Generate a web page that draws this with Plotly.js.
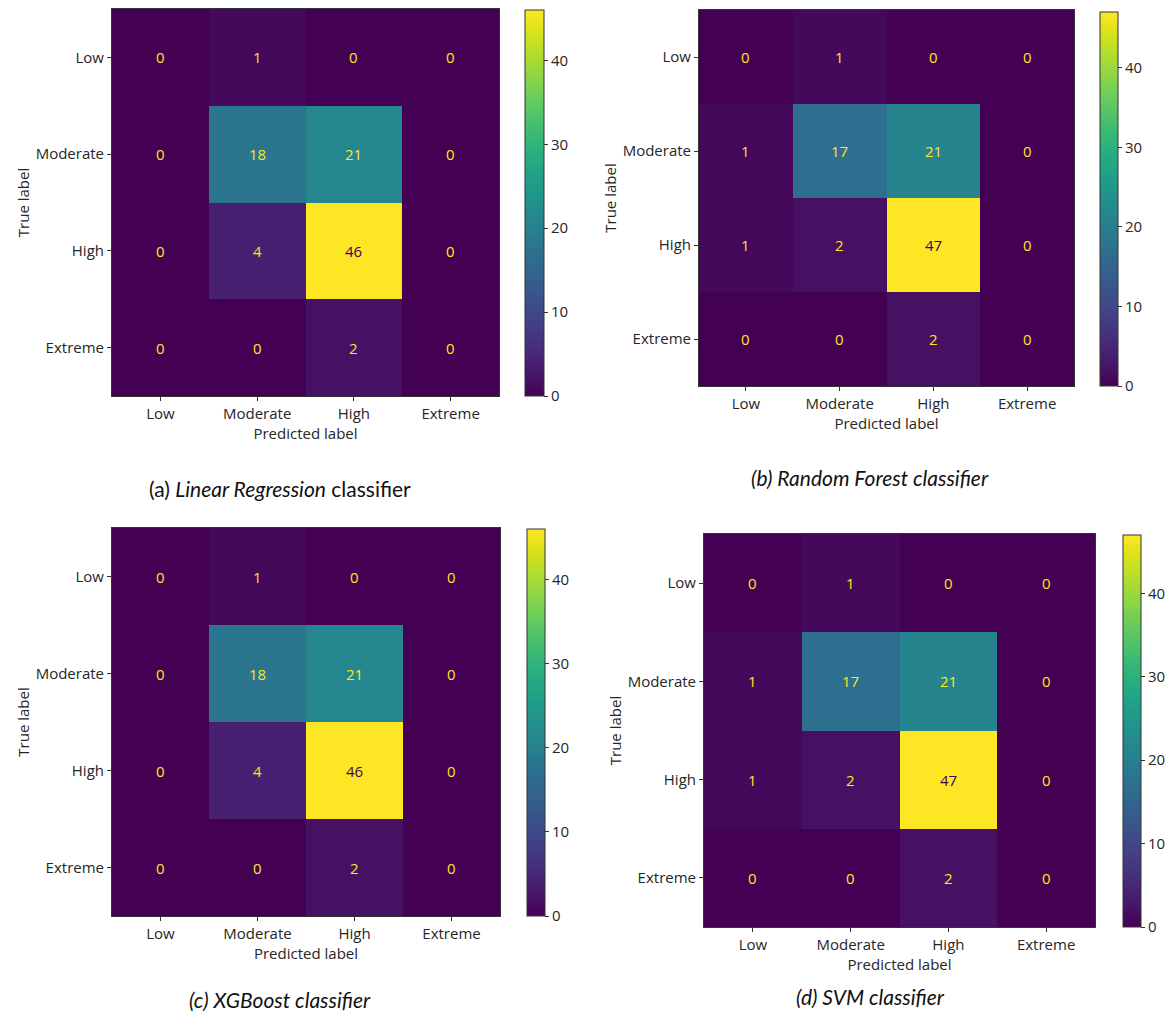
<!DOCTYPE html>
<html>
<head>
<meta charset="utf-8">
<script src="https://cdn.plot.ly/plotly-3.0.1.min.js"></script>
<style>html,body{margin:0;padding:0;background:#fff;}#chart{width:1176px;height:1014px;}</style>
</head>
<body>
<div id="chart"></div>
<script>
// ---------- DATA ----------
const classLabels = ["Low", "Moderate", "High", "Extreme"];
const cmLinearRegression = [[0,1,0,0],[0,18,21,0],[0,4,46,0],[0,0,2,0]];
const cmRandomForest     = [[0,1,0,0],[1,17,21,0],[1,2,47,0],[0,0,2,0]];
const cmXGBoost          = [[0,1,0,0],[0,18,21,0],[0,4,46,0],[0,0,2,0]];
const cmSVM              = [[0,1,0,0],[1,17,21,0],[1,2,47,0],[0,0,2,0]];
const colorbarTicks = [0, 10, 20, 30, 40];
const captions = [
  "(a) <i>Linear Regression</i> classifier",
  "<i>(b) Random Forest classifier</i>",
  "<i>(c) XGBoost classifier</i>",
  "<i>(d) SVM classifier</i>"
];
const xTitle = "Predicted label";
const yTitle = "True label";

// ---------- LAYOUT (pixel boxes) ----------
const W = 1176, H = 1014;
const panels = [
  {cm: cmLinearRegression, box: [112, 9, 499, 396],   cb: [525, 10, 544, 396],  cap: [280, 488]},
  {cm: cmRandomForest,     box: [699, 10, 1074, 386], cb: [1100, 12, 1118, 386], cap: [870, 478]},
  {cm: cmXGBoost,          box: [112, 528, 500, 916], cb: [527, 529, 545, 916], cap: [280, 999]},
  {cm: cmSVM,              box: [704, 534, 1095, 927], cb: [1123, 535, 1141, 927], cap: [870, 996]}
];
const fx = p => p / W;
const fy = p => 1 - p / H;
const txtFont = {family: "Open Sans, Noto Sans, sans-serif", size: 15, color: "#262626"};
const idx = classLabels.map((_, i) => i);

const data = [];
const layout = {
  width: W, height: H,
  margin: {l: 0, r: 0, t: 0, b: 0},
  paper_bgcolor: "#ffffff", plot_bgcolor: "#ffffff",
  showlegend: false,
  annotations: [],
  font: txtFont
};

panels.forEach((p, k) => {
  const n = k === 0 ? "" : String(k + 1);
  const xa = "x" + n, ya = "y" + n;
  const zmax = Math.max(...p.cm.flat());
  data.push({
    type: "heatmap",
    z: p.cm, x: idx, y: idx,
    xaxis: xa, yaxis: ya,
    colorscale: "Viridis",
    zmin: 0, zmax: zmax,
    hoverinfo: "skip",
    colorbar: {
      x: fx(p.cb[0]), xanchor: "left", xref: "paper",
      y: fy(p.cb[1]), yanchor: "top", yref: "paper",
      len: (p.cb[3] - p.cb[1]) / H, lenmode: "fraction",
      thickness: p.cb[2] - p.cb[0], thicknessmode: "pixels",
      xpad: 0, ypad: 0,
      outlinewidth: 1, outlinecolor: "#333",
      tickvals: colorbarTicks, ticks: "outside", ticklen: 4, tickcolor: "#333",
      tickfont: txtFont
    }
  });
  layout["xaxis" + n] = {
    domain: [fx(p.box[0]), fx(p.box[2])],
    anchor: ya,
    range: [-0.5, 3.5],
    tickvals: idx, ticktext: classLabels,
    ticks: "outside", ticklen: 4, tickcolor: "#333",
    showline: true, mirror: true, linecolor: "#333", linewidth: 1,
    showgrid: false, zeroline: false, fixedrange: true,
    tickfont: txtFont,
    title: {text: xTitle, font: txtFont, standoff: 2}
  };
  layout["yaxis" + n] = {
    domain: [fy(p.box[3]), fy(p.box[1])],
    anchor: xa,
    range: [3.5, -0.5],
    tickvals: idx, ticktext: classLabels,
    ticks: "outside", ticklen: 4, tickcolor: "#333",
    showline: true, mirror: true, linecolor: "#333", linewidth: 1,
    showgrid: false, zeroline: false, fixedrange: true,
    tickfont: txtFont,
    title: {text: yTitle, font: txtFont, standoff: 2}
  };
  // cell value annotations
  p.cm.forEach((row, r) => row.forEach((v, c) => {
    layout.annotations.push({
      xref: xa, yref: ya, x: c, y: r, text: String(v), showarrow: false,
      font: {family: txtFont.family, size: 15, color: v > zmax / 2 ? "#440154" : "#fde725"}
    });
  }));
  // caption
  layout.annotations.push({
    xref: "paper", yref: "paper", x: fx(p.cap[0]), y: fy(p.cap[1]),
    xanchor: "center", yanchor: "middle", showarrow: false,
    text: captions[k],
    font: {family: "Lato, Noto Sans, sans-serif", size: 21, color: "#111"}
  });
});

Plotly.newPlot("chart", data, layout, {displayModeBar: false, staticPlot: true});
</script>
</body>
</html>
